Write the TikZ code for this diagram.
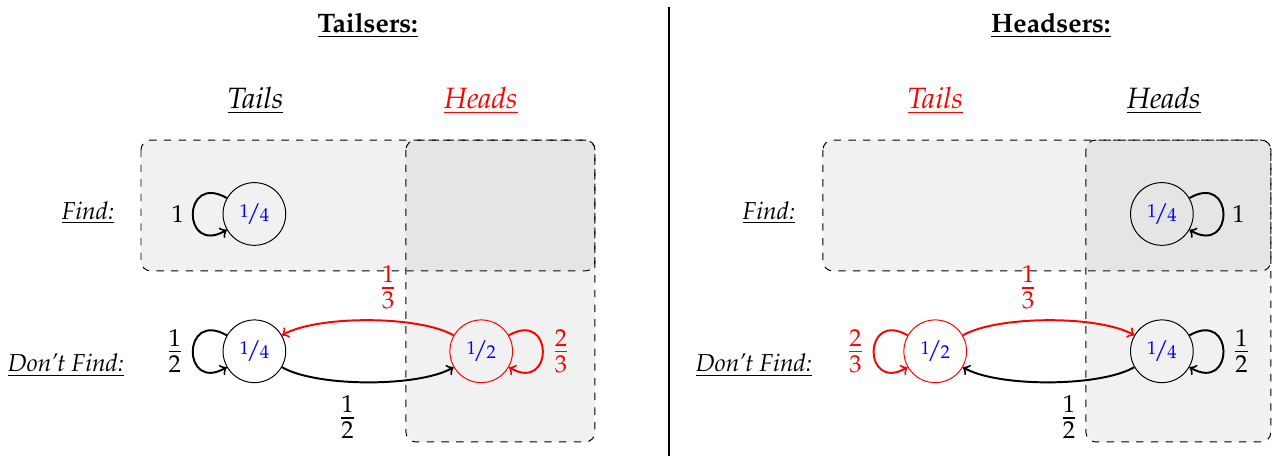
\documentclass[tikz,border=0pt]{standalone}
\usepackage[T1]{fontenc}
\usepackage{mathpazo}
\usepackage{nicefrac}

\tikzset{
  state/.style={circle, draw, thin, minimum size=0.9cm, inner sep=0pt, text=blue},
  region/.style={draw, dashed, thin, rounded corners=4pt, fill=gray, fill opacity=0.11},
  move/.style={->, thick},
  prob/.style={font=\Large},
  title/.style={font=\fontsize{10.9}{13}\selectfont\bfseries, anchor=base},
  col label/.style={font=\large\itshape, anchor=base},
  row label/.style={font=\itshape, anchor=base},
}

\begin{document}
\begin{tikzpicture}
    \useasboundingbox (0,0) rectangle (18.28,-6.54);

    % --- divider between the two players ---
    \coordinate (top) at (9.605,-0.10);
    \coordinate (bot) at (9.605,-6.54);
    \draw[thick] (top) -- (bot);

    % --- left: Tailsers ---
    \node[title] (ttl) at (5.277,-0.469) {\underline{Tailsers:}};
    \node[col label] (lt) at (3.666,-1.554) {\underline{Tails}};
    \node[col label, red] (lh) at (6.90,-1.554) {\underline{Heads}};
    \node[row label] (lf) at (1.263,-3.146) {\underline{Find:}};
    \node[row label] (ld) at (0.947,-5.333) {\underline{Don't Find:}};

    \path[region] (2.023,-2.009) rectangle (8.537,-3.888);
    \path[region] (5.825,-2.009) rectangle (8.537,-6.341);

    \node[state] (tf) at (3.650,-3.070) {\nicefrac{1}{4}};
    \node[state] (td) at (3.650,-5.040) {\nicefrac{1}{4}};
    \node[state, draw=red] (hd) at (6.905,-5.040) {\nicefrac{1}{2}};

    \draw[move] (tf) to[out=150, in=210, looseness=4.2] node[left] (tf1) {$1$} (tf);
    \draw[move] (td) to[out=150, in=210, looseness=4.2] node[left, prob] (td1) {$\frac{1}{2}$} (td);
    \draw[move, red] (hd) to[out=30, in=-30, looseness=4.2] node[right, prob] (hd1) {$\frac{2}{3}$} (hd);
    \draw[move, red] (hd) to[out=150, in=30, looseness=0.6] node[pos=0.4, above=1pt, prob] (hd2) {$\frac{1}{3}$} (td);
    \draw[move] (td) to[out=-30, in=210, looseness=0.6] node[pos=0.4, below=2pt, prob] (td2) {$\frac{1}{2}$} (hd);

    % --- right: Headsers ---
    \node[title] (httl) at (15.079,-0.469) {\underline{Headsers:}};
    \node[col label, red] (rt) at (13.42,-1.554) {\underline{Tails}};
    \node[col label] (rh) at (16.70,-1.554) {\underline{Heads}};
    \node[row label] (rf) at (11.033,-3.146) {\underline{Find:}};
    \node[row label] (rd) at (10.818,-5.333) {\underline{Don't Find:}};

    \path[region] (11.808,-2.009) rectangle (18.235,-3.888);
    \path[region] (15.581,-2.009) rectangle (18.235,-6.341);

    \node[state] (hf) at (16.671,-3.070) {\nicefrac{1}{4}};
    \node[state] (hdd) at (16.671,-5.040) {\nicefrac{1}{4}};
    \node[state, draw=red] (tdd) at (13.419,-5.040) {\nicefrac{1}{2}};

    \draw[move] (hf) to[out=30, in=-30, looseness=4.2] node[right] (hf1) {$1$} (hf);
    \draw[move] (hdd) to[out=30, in=-30, looseness=4.2] node[right, prob] (hdd1) {$\frac{1}{2}$} (hdd);
    \draw[move, red] (tdd) to[out=150, in=210, looseness=4.2] node[left, prob] (tdd1) {$\frac{2}{3}$} (tdd);
    \draw[move, red] (tdd) to[out=30, in=150, looseness=0.6] node[pos=0.4, above=1pt, prob] (tdd2) {$\frac{1}{3}$} (hdd);
    \draw[move] (hdd) to[out=210, in=-30, looseness=0.6] node[pos=0.4, below=2pt, prob] (hdd2) {$\frac{1}{2}$} (tdd);
\end{tikzpicture}
\end{document}
